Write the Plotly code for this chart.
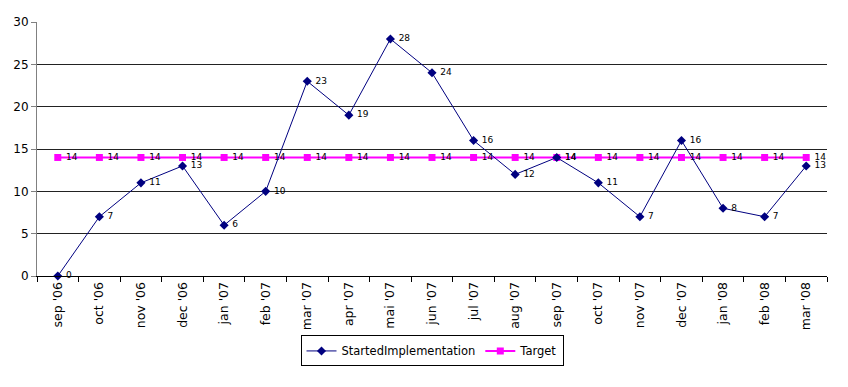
import plotly.graph_objects as go

months = ["sep '06", "oct '06", "nov '06", "dec '06", "jan '07", "feb '07", "mar '07",
          "apr '07", "mai '07", "jun '07", "jul '07", "aug '07", "sep '07", "oct '07",
          "nov '07", "dec '07", "jan '08", "feb '08", "mar '08"]
started = [0, 7, 11, 13, 6, 10, 23, 19, 28, 24, 16, 12, 14, 11, 7, 16, 8, 7, 13]
target = [14] * len(months)

fig = go.Figure()
fig.add_trace(go.Scatter(
    x=months, y=target, name="Target", mode="lines+markers+text",
    line=dict(color="#FF00FF", width=2),
    marker=dict(symbol="square", size=7, color="#FF00FF"),
    text=[" " + str(v) for v in target], textposition="middle right",
    textfont=dict(family="DejaVu Sans", size=9, color="#000000"),
    cliponaxis=False, showlegend=True,
))
fig.add_trace(go.Scatter(
    x=months, y=started, name="StartedImplementation", mode="lines+markers+text",
    line=dict(color="#000080", width=1),
    marker=dict(symbol="diamond", size=7, color="#000080"),
    text=[" " + str(v) for v in started], textposition="middle right",
    textfont=dict(family="DejaVu Sans", size=9, color="#000000"),
    cliponaxis=False,
))

fig.update_layout(
    width=840, height=379,
    margin=dict(l=29, r=21, t=14, b=111),
    paper_bgcolor="white", plot_bgcolor="white",
    font=dict(family="DejaVu Sans", size=11, color="#000000"),
    legend=dict(orientation="h", x=0.5, xanchor="center", y=-0.295, yanchor="middle",
                bordercolor="#000000", borderwidth=1, traceorder="reversed",
                font=dict(size=11.5), itemwidth=30),
    xaxis=dict(type="category", range=[-0.5, 18.5], tickangle=-90,
               showgrid=False, showline=True, linecolor="#000000", linewidth=1,
               ticks="outside", tickson="boundaries", ticklen=5, tickcolor="#000000",
               tickfont=dict(size=12.5), automargin=False),
    yaxis=dict(range=[0, 30], dtick=5, showgrid=True, gridcolor="#222222", gridwidth=1,
               showline=True, linecolor="#808080", linewidth=1, zeroline=False,
               ticks="outside", ticklen=5, tickcolor="#808080",
               tickfont=dict(size=12), automargin=False),
)

fig.write_html("out.html")
